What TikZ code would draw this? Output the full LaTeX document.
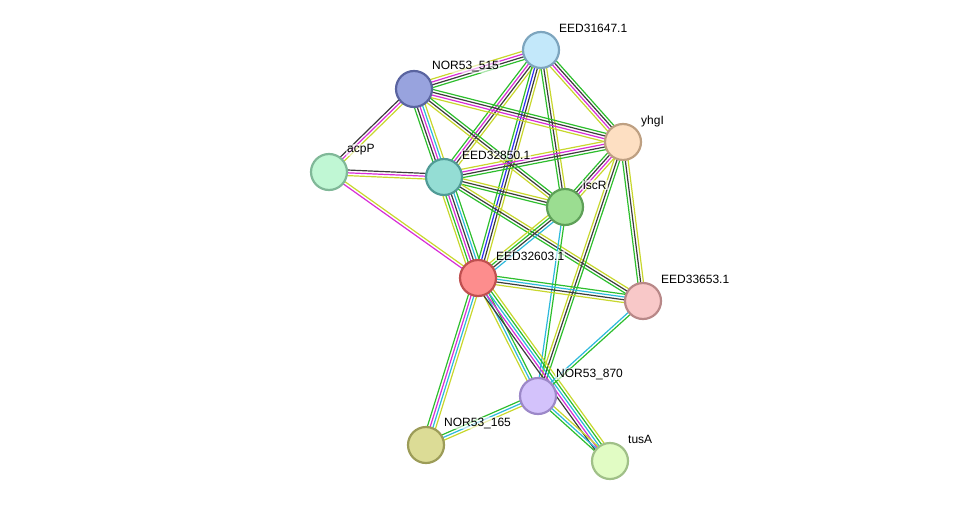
\documentclass[tikz,border=0pt]{standalone}
\usepackage{fontspec}
\setmainfont{Liberation Sans}
\usetikzlibrary{calc}
\pgfdeclarelayer{bg}
\pgfsetlayers{bg,main}

% evidence colours
\definecolor{grn}{RGB}{45,190,45}
\definecolor{blk}{RGB}{60,60,60}
\definecolor{mag}{RGB}{215,45,215}
\definecolor{yel}{RGB}{200,215,45}
\definecolor{blu}{RGB}{45,45,240}
\definecolor{cya}{RGB}{45,185,220}

% protein colours (border, fill)
\definecolor{b31647}{RGB}{125,165,190}\definecolor{f31647}{RGB}{195,232,250}
\definecolor{b515}{RGB}{90,100,160}\definecolor{f515}{RGB}{152,163,222}
\definecolor{byhgI}{RGB}{190,160,130}\definecolor{fyhgI}{RGB}{253,223,194}
\definecolor{bacpP}{RGB}{128,184,152}\definecolor{facpP}{RGB}{192,247,212}
\definecolor{b32850}{RGB}{80,155,150}\definecolor{f32850}{RGB}{148,221,212}
\definecolor{biscR}{RGB}{94,160,88}\definecolor{fiscR}{RGB}{155,221,145}
\definecolor{b32603}{RGB}{192,80,80}\definecolor{f32603}{RGB}{253,141,141}
\definecolor{b33653}{RGB}{184,136,136}\definecolor{f33653}{RGB}{248,200,200}
\definecolor{b870}{RGB}{156,136,200}\definecolor{f870}{RGB}{211,194,251}
\definecolor{b165}{RGB}{156,156,88}\definecolor{f165}{RGB}{220,220,150}
\definecolor{btusA}{RGB}{160,192,136}\definecolor{ftusA}{RGB}{225,252,196}

\tikzset{
  prot/.style={circle, minimum size=36pt, inner sep=0pt, line width=2.2pt, draw=b#1, fill=f#1},
  lbl/.style={anchor=west, inner sep=1pt, fill=white, fill opacity=0.6, text opacity=1,
    font=\fontsize{12}{14}\selectfont},
  evid/.style={line width=1.2pt}
}

% one line per colour, side by side
\newcommand{\link}[3]{%
  \foreach \c [count=\i] in {#3} {\xdef\nlines{\i}}
  \foreach \c [count=\i] in {#3} {
    \pgfmathsetmacro\off{(\i-(\nlines+1)/2)*2.8}
    \draw[evid, \c] ($(#1)!\off pt!90:(#2)$) -- ($(#2)!\off pt!-90:(#1)$);
  }
}

\begin{document}
\begin{tikzpicture}[x=1pt, y=-1pt]
  \useasboundingbox (0,0) rectangle (976,506);

  % proteins
  \node[prot=31647] (p31647) at (541,50) {};
  \node[prot=515] (p515) at (414,89) {};
  \node[prot=yhgI] (yhgI) at (623,142) {};
  \node[prot=acpP] (acpP) at (329,172) {};
  \node[prot=32850] (p32850) at (444,177) {};
  \node[prot=iscR] (iscR) at (565,207) {};
  \node[prot=32603] (p32603) at (478,278) {};
  \node[prot=33653] (p33653) at (643,301) {};
  \node[prot=870] (p870) at (538,396) {};
  \node[prot=165] (p165) at (426,445) {};
  \node[prot=tusA] (tusA) at (610,461) {};

  % labels
  \node[lbl] (l31647) at (558,28) {EED31647.1};
  \node[lbl] (l515) at (431,67) {NOR53\_515};
  \node[lbl] (lyhgI) at (640,121) {yhgI};
  \node[lbl] (lacpP) at (346,150) {acpP};
  \node[lbl] (l32850) at (461,155) {EED32850.1};
  \node[lbl] (liscR) at (582,185) {iscR};
  \node[lbl] (l32603) at (495,256) {EED32603.1};
  \node[lbl] (l33653) at (660,279) {EED33653.1};
  \node[lbl] (l870) at (555,374) {NOR53\_870};
  \node[lbl] (l165) at (443,423) {NOR53\_165};
  \node[lbl] (ltusA) at (627,439) {tusA};

  % interactions
  \begin{pgfonlayer}{bg}
    \link{p31647}{p515}{yel,mag,blk,grn}
    \link{p31647}{yhgI}{yel,mag,blk,grn}
    \link{p31647}{p32850}{grn,mag,blk,yel}
    \link{p31647}{p32603}{grn,blu,blk,yel}
    \link{p31647}{iscR}{grn,blk,yel}
    \link{p515}{yhgI}{yel,mag,blk,grn}
    \link{p515}{p32850}{grn,blk,mag,cya,yel}
    \link{p515}{iscR}{yel,blk,grn}
    \link{p515}{acpP}{blk,mag,yel}
    \link{acpP}{p32850}{yel,mag,blk}
    \link{acpP}{p32603}{mag,yel}
    \link{p32850}{p32603}{yel,grn,mag,blk,cya,grn}
    \link{p32850}{yhgI}{grn,blk,mag,yel}
    \link{p32850}{iscR}{grn,blk,yel}
    \link{p32850}{p33653}{grn,blk,yel}
    \link{iscR}{yhgI}{yel,mag,blk,grn}
    \link{iscR}{p32603}{yel,grn,blk,cya}
    \link{iscR}{p870}{cya,grn}
    \link{yhgI}{p870}{yel,blk,grn}
    \link{yhgI}{p33653}{grn,blk,yel}
    \link{p32603}{p33653}{yel,blk,cya,grn}
    \link{p32603}{p870}{yel,cya,grn}
    \link{p32603}{tusA}{blk,mag,cya,grn,yel}
    \link{p32603}{p165}{grn,mag,cya,yel}
    \link{p33653}{p870}{cya,grn}
    \link{p870}{p165}{grn,cya,yel}
    \link{p870}{tusA}{grn,cya,yel}
  \end{pgfonlayer}
\end{tikzpicture}
\end{document}
